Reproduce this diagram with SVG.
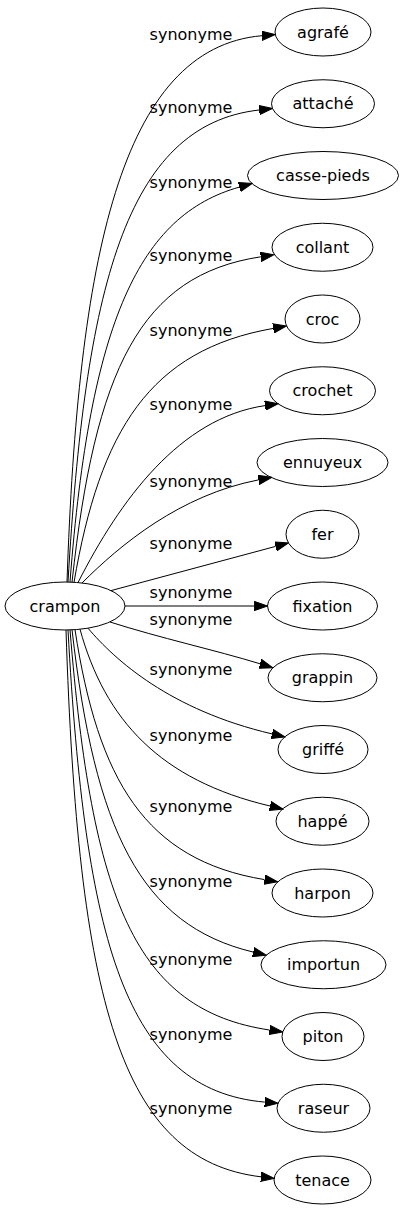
<svg xmlns="http://www.w3.org/2000/svg" width="402" height="1211" viewBox="0 0 402 1211">
<defs>
<style>
.n ellipse{fill:none;stroke:#000;stroke-width:1}
text{font-family:"DejaVu Sans",Verdana,sans-serif;font-size:16px;fill:#000}
.n text{text-anchor:middle}
.e path{fill:none;stroke:#000;stroke-width:1;marker-end:url(#ah)}
.l text{text-anchor:middle}
</style>
<marker id="ah" markerUnits="userSpaceOnUse" viewBox="0 -5 14 10" refX="0" refY="0" markerWidth="14" markerHeight="10" orient="auto">
<path d="M0,-4.67 L13.3,0 L0,4.67 z" fill="#000" stroke="#000" stroke-width="1"/>
</marker>
</defs>
<rect width="402" height="1211" fill="#fff"/>
<g id="edges" class="e">
<path d="M67,582 C78,260 120,48 262,35.7"/>
<path d="M68,582 C85,290 125,125 259.2,110"/>
<path d="M70,582 C90,320 140,215 239.4,187.1"/>
<path d="M72,582.2 C95,370 140,275 260.8,256.8"/>
<path d="M74,582.4 C100,430 150,350 273.3,328.4"/>
<path d="M78,582.6 C120,500 180,418 265,405.6"/>
<path d="M82,583 C120,545 180,495 258.5,479.9"/>
<path d="M111,590.6 L275.6,546.4"/>
<path d="M125,606 L254.2,606"/>
<path d="M110,622 C160,638 215,650 260.1,663.8"/>
<path d="M88,628.2 C115,660 170,710 272,733.9"/>
<path d="M80,629.2 C105,720 160,780 270,806"/>
<path d="M75,629.7 C98,780 145,860 264.5,879.6"/>
<path d="M72,629.7 C95,830 140,925 253.3,952.1"/>
<path d="M70,629.8 C92,900 135,1010 269.5,1030"/>
<path d="M68,630 C85,940 125,1090 264.8,1102.1"/>
<path d="M66,630 C78,1000 120,1160 261,1176.8"/>
</g>
<g id="labels" class="l">
<text x="191" y="39.5">synonyme</text>
<text x="191" y="112.5">synonyme</text>
<text x="191" y="187.5">synonyme</text>
<text x="191" y="261">synonyme</text>
<text x="191" y="335.5">synonyme</text>
<text x="191" y="410">synonyme</text>
<text x="191" y="487">synonyme</text>
<text x="191" y="548.5">synonyme</text>
<text x="191" y="597.5">synonyme</text>
<text x="191" y="625">synonyme</text>
<text x="191" y="675">synonyme</text>
<text x="191" y="741">synonyme</text>
<text x="191" y="812">synonyme</text>
<text x="191" y="887">synonyme</text>
<text x="191" y="965">synonyme</text>
<text x="191" y="1040">synonyme</text>
<text x="191" y="1114">synonyme</text>
</g>
<g id="crampon" class="n"><ellipse cx="65" cy="606" rx="60" ry="24"/><text x="65" y="611.5">crampon</text></g>
<g id="agrafe" class="n"><ellipse cx="323" cy="32" rx="48" ry="24"/><text x="323" y="37.5">agrafé</text></g>
<g id="attache" class="n"><ellipse cx="323" cy="103.75" rx="51.5" ry="24"/><text x="323" y="109.25">attaché</text></g>
<g id="casse-pieds" class="n"><ellipse cx="323" cy="175.5" rx="75.5" ry="24"/><text x="323" y="181">casse-pieds</text></g>
<g id="collant" class="n"><ellipse cx="322.5" cy="247.25" rx="50.5" ry="24"/><text x="322.5" y="252.75">collant</text></g>
<g id="croc" class="n"><ellipse cx="322.5" cy="319" rx="37.5" ry="24"/><text x="322.5" y="324.5">croc</text></g>
<g id="crochet" class="n"><ellipse cx="322.5" cy="390.75" rx="53" ry="24"/><text x="322.5" y="396.25">crochet</text></g>
<g id="ennuyeux" class="n"><ellipse cx="322.5" cy="462.5" rx="65.5" ry="24"/><text x="322.5" y="468">ennuyeux</text></g>
<g id="fer" class="n"><ellipse cx="322.5" cy="534.25" rx="36.5" ry="24"/><text x="322.5" y="539.75">fer</text></g>
<g id="fixation" class="n"><ellipse cx="322.5" cy="606" rx="55" ry="24"/><text x="322.5" y="611.5">fixation</text></g>
<g id="grappin" class="n"><ellipse cx="322.5" cy="677.75" rx="54.5" ry="24"/><text x="322.5" y="683.25">grappin</text></g>
<g id="griffe" class="n"><ellipse cx="323" cy="749.5" rx="45" ry="24"/><text x="323" y="755">griffé</text></g>
<g id="happe" class="n"><ellipse cx="322.5" cy="821.25" rx="46.5" ry="24"/><text x="322.5" y="826.75">happé</text></g>
<g id="harpon" class="n"><ellipse cx="322.5" cy="893" rx="50.5" ry="24"/><text x="322.5" y="898.5">harpon</text></g>
<g id="importun" class="n"><ellipse cx="323.5" cy="964.75" rx="62.5" ry="24"/><text x="323.5" y="970.25">importun</text></g>
<g id="piton" class="n"><ellipse cx="323" cy="1036.5" rx="41" ry="24"/><text x="323" y="1042">piton</text></g>
<g id="raseur" class="n"><ellipse cx="323.5" cy="1108.25" rx="46.5" ry="24"/><text x="323.5" y="1113.75">raseur</text></g>
<g id="tenace" class="n"><ellipse cx="322.5" cy="1180" rx="48.5" ry="24"/><text x="322.5" y="1185.5">tenace</text></g>
</svg>
